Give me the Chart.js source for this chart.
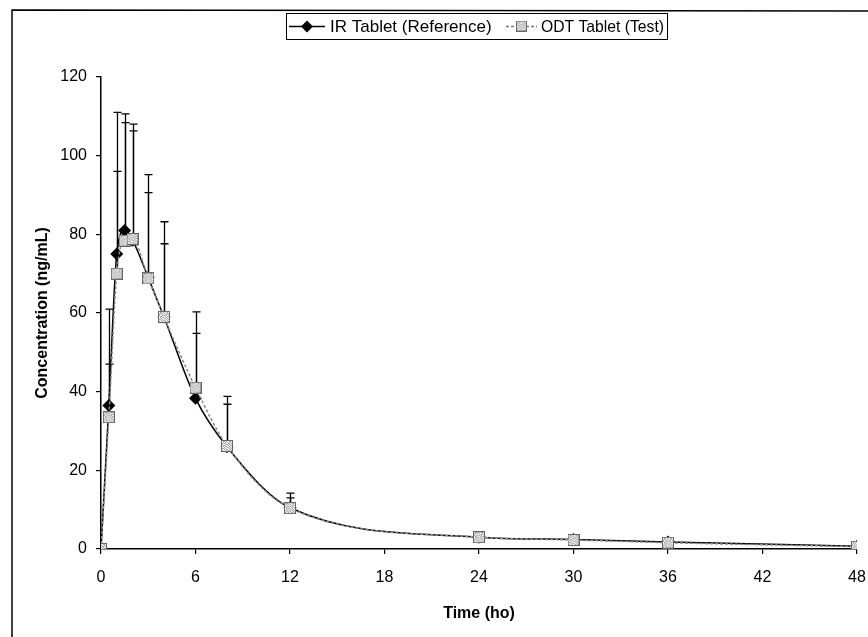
<!DOCTYPE html>
<html>
<head>
<meta charset="utf-8">
<script src="https://cdn.jsdelivr.net/npm/chart.js@4.4.1/dist/chart.umd.min.js"></script>
<style>
  html, body { margin: 0; padding: 0; background: #fff; }
  canvas { display: block; }
</style>
</head>
<body>
<canvas id="pkChart" width="868" height="637"></canvas>
<script>
// Sampling times (h)
const times = [0, 0.5, 1, 1.5, 2, 3, 4, 6, 8, 12, 24, 30, 36, 48];

// Mean plasma concentration (ng/mL)
const irMean = [0, 36.5, 75, 81, 78.5, 69, 59, 38.3, 26, 10.5, 3, 2.4, 1.8, 0.7];
const odtMean = [0, 33.5, 70, 78.4, 78.8, 68.8, 59, 41, 26.2, 10.4, 3, 2.3, 1.6, 0.6];

// Standard deviations (upper error bars only)
const irSD = [0, 24.5, 36, 29.6, 29.5, 26.2, 24.2, 22, 12.8, 3.7, 0, 0, 0, 0];
const odtSD = [0, 13.5, 26, 30, 27.5, 21.8, 18.6, 13.8, 10.6, 2.6, 0, 0, 0, 0];

const seriesNames = ['IR Tablet (Reference)', 'ODT Tablet (Test)'];
const xTicks = [0, 6, 12, 18, 24, 30, 36, 42, 48];
const yTicks = [0, 20, 40, 60, 80, 100, 120];

const FONT = "'Liberation Sans', Arial, sans-serif";

// Grey speckled square marker for the ODT series
function makeSpeckleSquare(size) {
    const c = document.createElement('canvas');
    c.width = size; c.height = size;
    const g = c.getContext('2d');
    g.fillStyle = '#a8a8a8';
    g.fillRect(0, 0, size, size);
    const rows = ['101101001101', '010010110010', '110101011011', '001011100100',
                  '101100010110', '010011101001', '110100110110', '011011001010',
                  '100101110101', '011010011010', '101101100101', '010010011011'];
    g.fillStyle = '#efefef';
    for (let r = 0; r < size; r++) {
        for (let col = 0; col < size; col++) {
            if (rows[r % rows.length][col % 12] === '1') g.fillRect(col, r, 1, 1);
        }
    }
    g.strokeStyle = '#666';
    g.lineWidth = 1;
    g.strokeRect(0.5, 0.5, size - 1, size - 1);
    return c;
}
const odtMarker = makeSpeckleSquare(12);

// Upper-only error bars with caps
const errorBarPlugin = {
    id: 'errorBars',
    beforeDatasetsDraw(chart) {
        const { ctx } = chart;
        const x = chart.scales.x;
        const y = chart.scales.y;
        const sets = [[irMean, irSD], [odtMean, odtSD]];
        ctx.save();
        ctx.strokeStyle = '#000';
        ctx.lineWidth = 1.3;
        sets.forEach(([mean, sd]) => {
            times.forEach((t, i) => {
                if (!sd[i]) return;
                const px = Math.round(x.getPixelForValue(t)) + 0.5;
                const y0 = y.getPixelForValue(mean[i]);
                const y1 = y.getPixelForValue(mean[i] + sd[i]);
                ctx.beginPath();
                ctx.moveTo(px, y0);
                ctx.lineTo(px, y1);
                ctx.moveTo(px - 4, y1);
                ctx.lineTo(px + 4, y1);
                ctx.stroke();
            });
        });
        ctx.restore();
    },
};

// Boxed legend at the top, plus the outer frame of the figure
const boxLegendPlugin = {
    id: 'boxLegend',
    afterDraw(chart, args, opts) {
        const { ctx } = chart;
        ctx.save();
        // frame
        ctx.strokeStyle = '#000';
        ctx.lineWidth = 1.5;
        ctx.beginPath();
        ctx.moveTo(12, chart.height);
        ctx.lineTo(12, 10);
        ctx.lineTo(chart.width, 11);
        ctx.stroke();

        // legend box
        ctx.lineWidth = 1;
        ctx.strokeRect(opts.x + 0.5, opts.y + 0.5, opts.w, opts.h);
        const cy = opts.y + opts.h / 2 + 0.5;
        ctx.font = '17px ' + FONT;
        ctx.fillStyle = '#000';
        ctx.textBaseline = 'middle';

        // IR entry
        let lx = opts.x + 3;
        ctx.strokeStyle = '#000';
        ctx.lineWidth = 1.5;
        ctx.beginPath();
        ctx.moveTo(lx, cy);
        ctx.lineTo(lx + 36, cy);
        ctx.stroke();
        ctx.beginPath();
        ctx.moveTo(lx + 18, cy - 6);
        ctx.lineTo(lx + 24, cy);
        ctx.lineTo(lx + 18, cy + 6);
        ctx.lineTo(lx + 12, cy);
        ctx.closePath();
        ctx.fill();
        ctx.fillText(seriesNames[0], lx + 41, cy + 1, 176);

        // ODT entry
        lx = opts.x + 220;
        ctx.strokeStyle = '#777';
        ctx.setLineDash([3, 2]);
        ctx.beginPath();
        ctx.moveTo(lx, cy);
        ctx.lineTo(lx + 31, cy);
        ctx.stroke();
        ctx.setLineDash([]);
        ctx.drawImage(odtMarker, lx + 10, cy - 6, 11, 11);
        ctx.fillStyle = '#000';
        ctx.fillText(seriesNames[1], lx + 35, cy + 1, 123);
        ctx.restore();
    },
};

const ctx = document.getElementById('pkChart').getContext('2d');

new Chart(ctx, {
    type: 'line',
    data: {
        datasets: [
            {
                label: seriesNames[0],
                data: times.map((t, i) => ({ x: t, y: irMean[i] })),
                borderColor: '#000',
                borderWidth: 1.5,
                backgroundColor: '#000',
                pointStyle: 'rectRot',
                pointRadius: 6.5,
                pointBorderWidth: 0,
                cubicInterpolationMode: 'monotone',
                order: 2,
            },
            {
                label: seriesNames[1],
                data: times.map((t, i) => ({ x: t, y: odtMean[i] })),
                borderColor: '#8a8a8a',
                borderWidth: 1.5,
                borderDash: [3, 2],
                pointStyle: odtMarker,
                cubicInterpolationMode: 'monotone',
                order: 1,
            },
        ],
    },
    options: {
        responsive: false,
        animation: false,
        layout: { padding: { top: 77, right: 11, left: 0, bottom: 0 } },
        plugins: {
            legend: { display: false },
            tooltip: { enabled: false },
            boxLegend: { x: 286, y: 13, w: 381, h: 26 },
        },
        scales: {
            x: {
                type: 'linear',
                min: 0,
                max: 48,
                afterBuildTicks: (s) => { s.ticks = xTicks.map((v) => ({ value: v })); },
                afterFit: (s) => { s.height = 88; s.paddingLeft = 0; s.paddingRight = 0; },
                border: { color: '#000', width: 1.5 },
                grid: { drawOnChartArea: false, drawTicks: true, tickLength: 5, color: '#000', lineWidth: 1.2 },
                ticks: { color: '#000', padding: 14, maxRotation: 0, font: { family: FONT, size: 16 } },
                title: {
                    display: true,
                    text: 'Time (ho)',
                    color: '#000',
                    font: { family: FONT, size: 16, weight: 'bold' },
                    padding: { top: 4, bottom: 14 },
                },
            },
            y: {
                min: 0,
                max: 120,
                afterBuildTicks: (s) => { s.ticks = yTicks.map((v) => ({ value: v })); },
                afterFit: (s) => { s.width = 101; },
                border: { color: '#000', width: 1.5 },
                grid: { drawOnChartArea: false, drawTicks: true, tickLength: 5, color: '#000', lineWidth: 1.2 },
                ticks: { color: '#000', padding: 9, font: { family: FONT, size: 16 } },
                title: {
                    display: true,
                    text: 'Concentration (ng/mL)',
                    color: '#000',
                    font: { family: FONT, size: 16, weight: 'bold' },
                    padding: { top: 33, bottom: 0 },
                },
            },
        },
    },
    plugins: [errorBarPlugin, boxLegendPlugin],
});
</script>
</body>
</html>
